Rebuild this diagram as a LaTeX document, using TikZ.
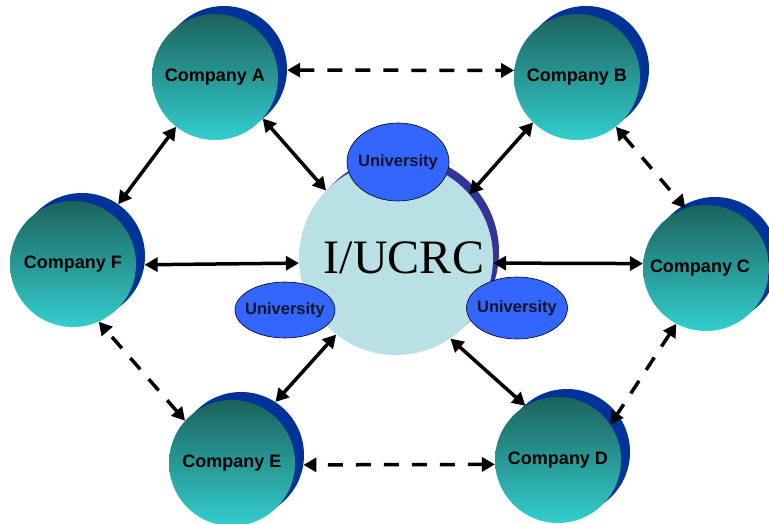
\documentclass[tikz,border=0pt]{standalone}
\usepackage{fontspec}
\setmainfont{Liberation Sans}
\newfontfamily\ucserif{Liberation Serif}
\usetikzlibrary{arrows.meta,shapes.geometric}
\definecolor{tealtop}{RGB}{28,98,92}
\definecolor{tealbot}{RGB}{51,206,206}
\definecolor{shadowblue}{RGB}{0,51,153}
\definecolor{hubfill}{RGB}{185,224,228}
\definecolor{hubshadow}{RGB}{51,51,153}
\definecolor{unifill}{RGB}{51,102,255}
\definecolor{unitext}{RGB}{20,20,40}
\begin{document}
\begin{tikzpicture}[x=1pt,y=-1pt,
 company/.style={circle, minimum size=126pt, inner sep=0pt, top color=tealtop, bottom color=tealbot, font=\bfseries\fontsize{18}{20}\selectfont},
 compshadow/.style={circle, minimum size=126pt, inner sep=0pt, fill=shadowblue},
 uni/.style={ellipse, draw=black, line width=0.6pt, fill=unifill, inner sep=0pt, text=unitext, font=\bfseries\fontsize{16.5}{18}\selectfont},
 link/.style={line width=3.5pt, {Triangle[length=13pt,width=14pt]}-{Triangle[length=13pt,width=14pt]}},
 dlink/.style={link, dash pattern=on 15pt off 13pt}]
\useasboundingbox (0,0) rectangle (769,524);
\clip (0,0) rectangle (769,524);
% shadows
\node[compshadow] (As) at (224,69) {};
\node[compshadow] (Bs) at (586,69) {};
\node[compshadow] (Cs) at (715,260) {};
\node[compshadow] (Ds) at (567,452) {};
\node[compshadow] (Es) at (241,455) {};
\node[compshadow] (Fs) at (82,256) {};
% companies
\node[company] (A) at (215,77) {Company A};
\node[company] (B) at (577,77) {Company B};
\node[company] (C) at (706,268) {\hspace*{-12pt}Company C};
\node[company] (D) at (558,460) {Company D};
\node[company] (E) at (232,463) {Company E};
\node[company] (F) at (73,264) {Company F};
% hub
\node[circle, minimum size=194pt, inner sep=0pt, fill=hubshadow] (Us) at (402,252) {};
\node[circle, minimum size=194pt, inner sep=0pt, fill=hubfill] (U) at (396,258) {};
\node[font=\ucserif\fontsize{48}{50}\selectfont] (Ulab) at (404,258) {I/UCRC};
% universities
\node[uni, minimum width=102pt, minimum height=78pt] (U1) at (398,162) {\makebox[0pt]{University}};
\node[uni, minimum width=100pt, minimum height=56pt] (U2) at (285,310) {\makebox[0pt]{University}};
\node[uni, minimum width=101pt, minimum height=62pt] (U3) at (517,308) {\makebox[0pt]{University}};
% dashed links between companies
\draw[dlink] (As.-1) -- (B.174);
\draw[dlink] (B.-52) -- (C.109);
\draw[dlink] (C.-118) -- (D.34);
\draw[dlink] (D.184) -- (Es.-9);
\draw[dlink] (E.138) -- (F.-66);
% solid links
\draw[link] (A.-128) -- (Fs.55);
\draw[link] (A.-41) -- (U.136);
\draw[link] (B.-134) -- (U.41);
\draw[link] (Fs.-8) -- (U.183);
\draw[link] (C.176) -- (U.-3);
\draw[link] (Es.57) -- (U.-128);
\draw[link] (D.121) -- (U.-56);
\end{tikzpicture}
\end{document}
